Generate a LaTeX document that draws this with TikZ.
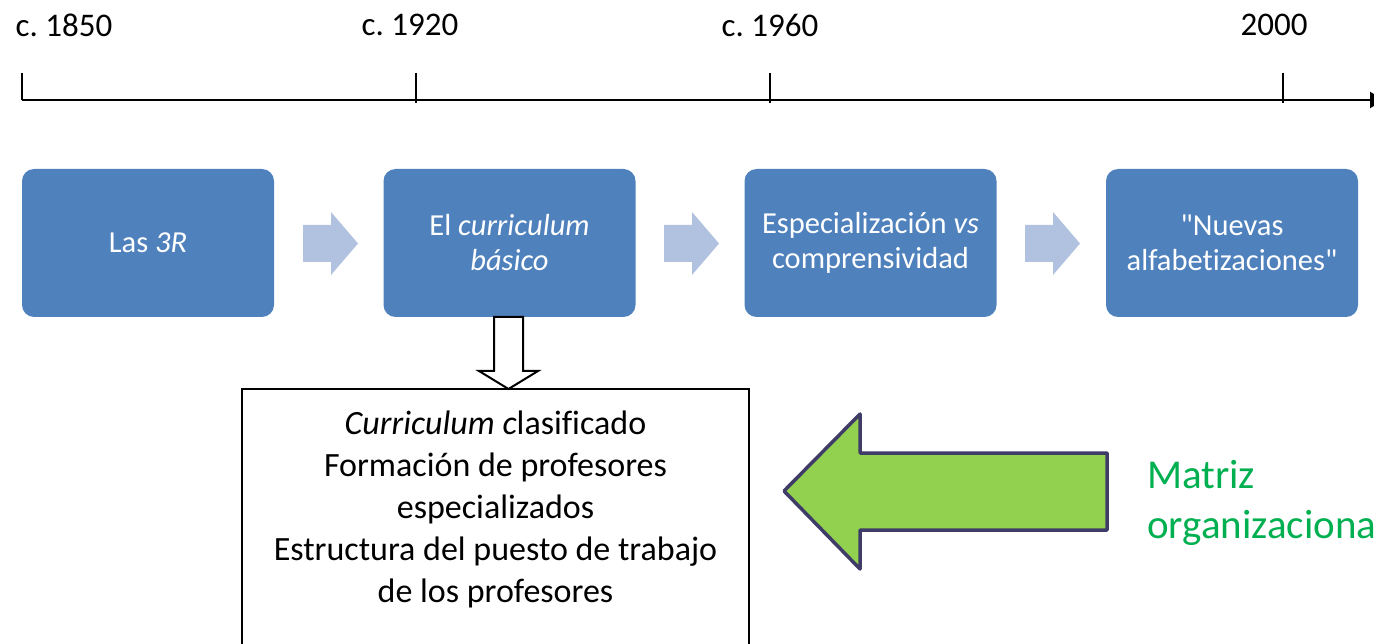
\documentclass[tikz,border=0pt]{standalone}
\usepackage{fontspec}
\setmainfont[Ligatures=CommonOff]{Carlito}
\frenchspacing
\usetikzlibrary{arrows.meta}
\definecolor{boxblue}{HTML}{4F81BD}
\definecolor{chev}{HTML}{B0C2DF}
\definecolor{arrgreen}{HTML}{92D050}
\definecolor{arrnavy}{HTML}{3F3D68}
\definecolor{txtgreen}{HTML}{00B050}
\tikzset{
  stage/.style={rectangle, rounded corners=12pt, fill=boxblue, minimum width=252pt, minimum height=148pt, text=white, align=center, inner sep=0pt, font=\fontsize{30.5}{35}\selectfont},
  year/.style={inner sep=0pt, font=\fontsize{33}{38}\selectfont},
  tick/.style={line width=2pt},
  chevron/.style={fill=chev},
  hollow/.style={draw=black, line width=2pt, fill=white},
  bigarrow/.style={draw=arrnavy, fill=arrgreen, line width=3.5pt, line join=round},
}
\begin{document}
\begin{tikzpicture}[x=1pt,y=-1pt]
\useasboundingbox (0,0) rectangle (1374,644);
% timeline
\coordinate (t0) at (22,100);
\coordinate (tend) at (1384,100);
\draw[line width=2pt, -{Triangle[length=14pt,width=16pt]}] (t0) -- (tend);
\foreach \x/\nm in {22/y1, 416/y2, 770/y3, 1283/y4}{
  \coordinate (\nm top) at (\x,73);
  \coordinate (\nm bot) at (\x,103);
}
\draw[tick] (y1top) -- (t0);
\draw[tick] (y2top) -- (y2bot);
\draw[tick] (y3top) -- (y3bot);
\draw[tick] (y4top) -- (y4bot);
\node[year] (l1) at (64,25) {c. 1850};
\node[year] (l2) at (410,25) {c. 1920};
\node[year] (l3) at (770,25) {c. 1960};
\node[year] (l4) at (1274,25) {2000};
% stage boxes
\node[stage] (b1) at (148,243) {Las \textit{3R}};
\node[stage] (b2) at (509.5,243) {El \textit{curriculum}\\\textit{básico}};
\node[stage] (b3) at (870.5,243) {Especialización \textit{vs}\\comprensividad};
\node[stage] (b4) at (1232,243) {\textquotedbl Nuevas\\alfabetizaciones\textquotedbl};
% chevrons
\foreach \dx in {0,361,722}{
  \fill[chevron] (303+\dx,225) -- (331+\dx,225) -- (331+\dx,212) -- (358+\dx,243.5) -- (331+\dx,275) -- (331+\dx,262) -- (303+\dx,262) -- cycle;
}
% big box
\draw[line width=2pt] (242,389) rectangle (749,670);
\node[align=center, inner sep=0pt, font=\fontsize{34}{42}\selectfont] (big) at (495.5,509.5)
  {\textit{Curriculum c}lasificado\\Formación de profesores\\especializados\\Estructura del puesto de trabajo\\de los profesores};
% hollow down arrow
\draw[hollow, line join=miter] (494,317) -- (523,317) -- (523,371) -- (538,371) -- (508.5,389) -- (479,371) -- (494,371) -- cycle;
% green arrow
\draw[bigarrow] (784,491) -- (860,414) -- (860,453) -- (1107,453) -- (1107,530) -- (860,530) -- (860,569) -- cycle;
\node[anchor=west, align=left, inner sep=0pt, text=txtgreen, font=\fontsize{41}{50}\selectfont] (mat) at (1147,503) {Matriz\\organizaciona};
\end{tikzpicture}
\end{document}
